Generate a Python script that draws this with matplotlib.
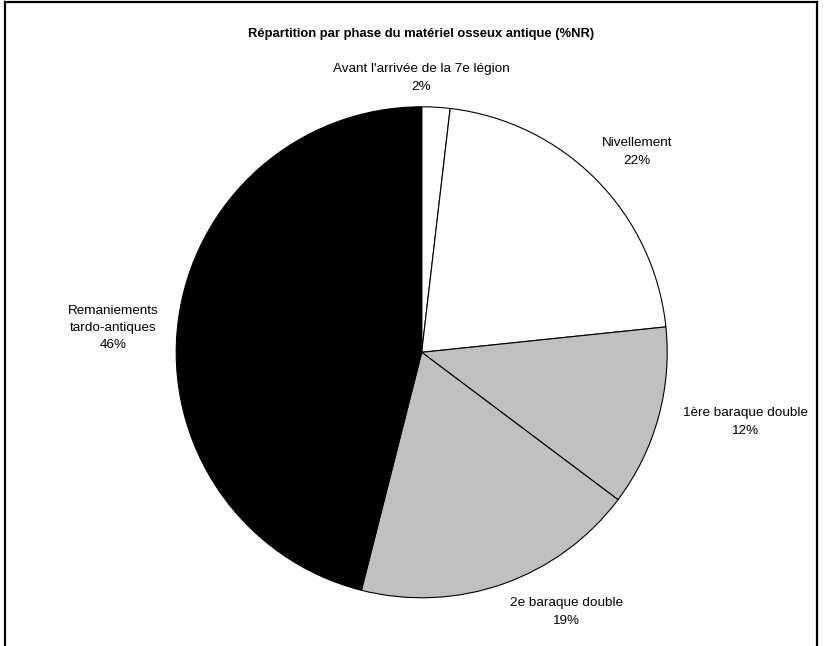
import numpy as np
import matplotlib.pyplot as plt
from matplotlib.lines import Line2D

plt.rcParams['font.family'] = ['Liberation Sans', 'DejaVu Sans']

# data (% NR)
phases = ["Avant l'arrivée de la 7e légion", "Nivellement", "1ère baraque double",
          "2e baraque double", "Remaniements\ntardo-antiques"]
shares = [1.85, 21.5, 11.9, 18.7, 46.05]
pct_labels = ["2%", "22%", "12%", "19%", "46%"]
colors = ["white", "white", "#C0C0C0", "#C0C0C0", "black"]

W, H = 828, 646
cx, cy, R = 421.7, 352.3, 245.5  # pie centre / radius in pixels

fig = plt.figure(figsize=(W / 100, H / 100), dpi=100)
ax = fig.add_axes([0, 0, 1, 1])
ax.pie(shares, colors=colors, startangle=90, counterclock=False, radius=1,
       wedgeprops=dict(edgecolor='black', linewidth=0.8))
ax.set_xlim(-cx / R, (W - cx) / R)
ax.set_ylim(-(H - cy) / R, cy / R)
ax.set_aspect('equal')
ax.axis('off')

# label centres in pixels
lab_pos = [(421, 78), (637, 152), (745, 422), (566, 612), (113, 328)]
for name, pct, (px, py) in zip(phases, pct_labels, lab_pos):
    ax.text((px - cx) / R, (cy - py) / R, name + "\n" + pct, ha='center', va='center',
            fontsize=9.7, linespacing=1.6)

fig.text(421 / W, 1 - 34 / H, "Répartition par phase du matériel osseux antique (%NR)",
         ha='center', va='center', fontsize=9.4, fontweight='bold')

# chart frame
fx0, fx1, fy0 = 5.5 / W, 817 / W, 1 - 2 / H
for xs, ys in [([fx0, fx1], [fy0, fy0]), ([fx0, fx0], [fy0, -0.1]), ([fx1, fx1], [fy0, -0.1])]:
    fig.add_artist(Line2D(xs, ys, color='black', linewidth=1.6, transform=fig.transFigure))

fig.savefig('out.png', dpi=100)
